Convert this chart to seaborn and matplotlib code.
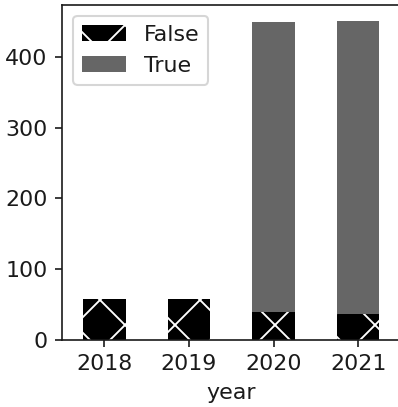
import matplotlib
matplotlib.use("Agg")
import matplotlib.pyplot as plt
import seaborn as sns
import pandas as pd

years = ["2018", "2019", "2020", "2021"]
count_false = [58, 58, 39, 36]
count_true = [0, 0, 410, 415]

sns.set_style("ticks")

plt.rcParams.update({
    "font.family": ["DejaVu Sans"],
    "font.size": 10.6,
    "axes.linewidth": 0.8,
    "xtick.major.size": 3.5,
    "ytick.major.size": 3.5,
    "xtick.major.width": 0.8,
    "ytick.major.width": 0.8,
    "legend.frameon": True,
    "hatch.linewidth": 0.9,
    "hatch.color": "white",
    "axes.edgecolor": "#1a1a1a",
    "xtick.color": "#1a1a1a",
    "ytick.color": "#1a1a1a",
    "text.color": "#1a1a1a",
    "axes.labelcolor": "#1a1a1a",
})

df = pd.DataFrame({"year": years, "False": count_false, "True": count_true})
df["total"] = df["False"] + df["True"]

fig = plt.figure(figsize=(398 / 150, 407 / 150), dpi=150)
# the right spine falls just past the canvas edge
ax = fig.add_axes([0.156, 0.165, 0.850, 0.823])

# stacked bars: full height in grey, the False part drawn over it
sns.barplot(data=df, x="year", y="total", color="#666666", saturation=1,
            width=0.5, linewidth=0, ax=ax)
sns.barplot(data=df, x="year", y="False", color="black", saturation=1,
            width=0.5, linewidth=0, edgecolor="white", hatch="x", ax=ax)

ax.set_ylabel("")
ax.set_xlabel("year")
ax.set_yticks([0, 100, 200, 300, 400])
ax.set_xlim(-0.5, 3.5)

bars_true = ax.containers[0]
bars_false = ax.containers[1]
leg = ax.legend([bars_false, bars_true], ["False", "True"], loc="upper left",
                fancybox=True, framealpha=0.8, edgecolor="#cccccc")

fig.savefig("out.png", dpi=150)
